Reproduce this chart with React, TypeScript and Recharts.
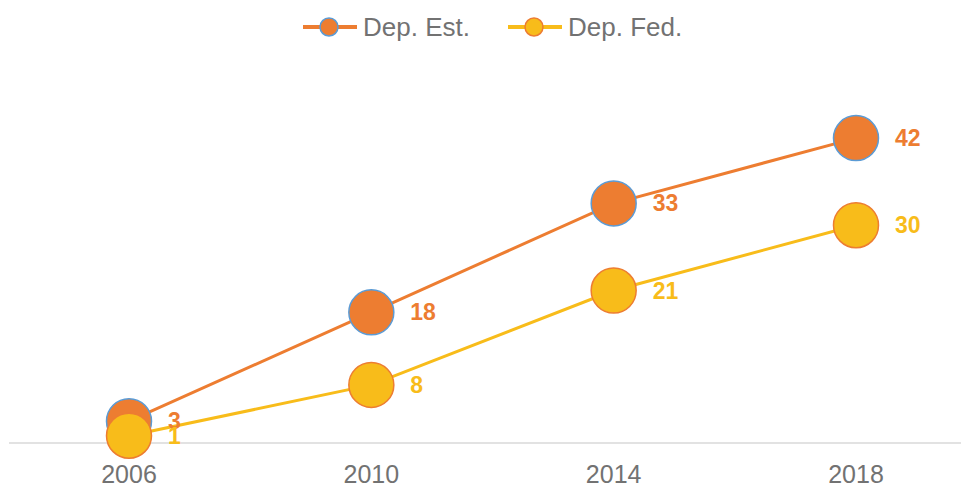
import React from "react";
import { LineChart, Line, XAxis, YAxis, LabelList } from "recharts";

const years = ["2006", "2010", "2014", "2018"];
const depEst = [3, 18, 33, 42];
const depFed = [1, 8, 21, 30];

const data = years.map((year, i) => ({ year, est: depEst[i], fed: depFed[i] }));

const ORANGE = "#ED7D31";
const YELLOW = "#F8BC1A";
const BLUE = "#5B9BD5";
const GRAY = "#727272";
const FONT = "'Liberation Sans', Arial, sans-serif";

const makeLabel = (color: string) => (props: any) => {
  const { x, y, value } = props;
  return (
    <text
      x={x + 39}
      y={y}
      fill={color}
      fontSize={23}
      fontWeight="bold"
      fontFamily={FONT}
      dominantBaseline="central"
    >
      {value}
    </text>
  );
};

const LegendItem = ({ left, color, stroke, label }: { left: number; color: string; stroke: string; label: string }) => (
  <div style={{ position: "absolute", left, top: 8, height: 38, display: "flex", alignItems: "center" }}>
    <svg width={56} height={38}>
      <line x1={1} y1={19} x2={55} y2={19} stroke={color} strokeWidth={4} />
      <circle cx={27} cy={19} r={9} fill={color} stroke={stroke} strokeWidth={1.5} />
    </svg>
    <span style={{ marginLeft: 5, fontSize: 26, color: GRAY, fontFamily: FONT }}>{label}</span>
  </div>
);

export default function App() {
  return (
    <div style={{ position: "absolute", left: 0, top: 0, width: 961, height: 487, background: "#fff" }}>
      <LegendItem left={302} color={ORANGE} stroke={BLUE} label="Dep. Est." />
      <LegendItem left={507} color={YELLOW} stroke={ORANGE} label="Dep. Fed." />
      <LineChart width={961} height={487} data={data} margin={{ top: 80, right: 0, bottom: 0, left: 9 }}>
        <XAxis
          dataKey="year"
          height={44}
          axisLine={{ stroke: "#D9D9D9", strokeWidth: 1.5 }}
          tickLine={false}
          tickSize={0}
          tickMargin={22}
          padding={{ left: 120, right: 105 }}
          tick={{ fill: GRAY, fontSize: 25, fontFamily: FONT }}
        />
        <YAxis hide domain={[0, 50]} />
        <Line
          dataKey="est"
          stroke={ORANGE}
          strokeWidth={3}
          isAnimationActive={false}
          dot={{ r: 22.5, fill: ORANGE, stroke: BLUE, strokeWidth: 1.5 }}
          activeDot={false}
        >
          <LabelList dataKey="est" content={makeLabel(ORANGE)} />
        </Line>
        <Line
          dataKey="fed"
          stroke={YELLOW}
          strokeWidth={3}
          isAnimationActive={false}
          dot={{ r: 22.5, fill: YELLOW, stroke: ORANGE, strokeWidth: 1.5 }}
          activeDot={false}
        >
          <LabelList dataKey="fed" content={makeLabel(YELLOW)} />
        </Line>
      </LineChart>
    </div>
  );
}
